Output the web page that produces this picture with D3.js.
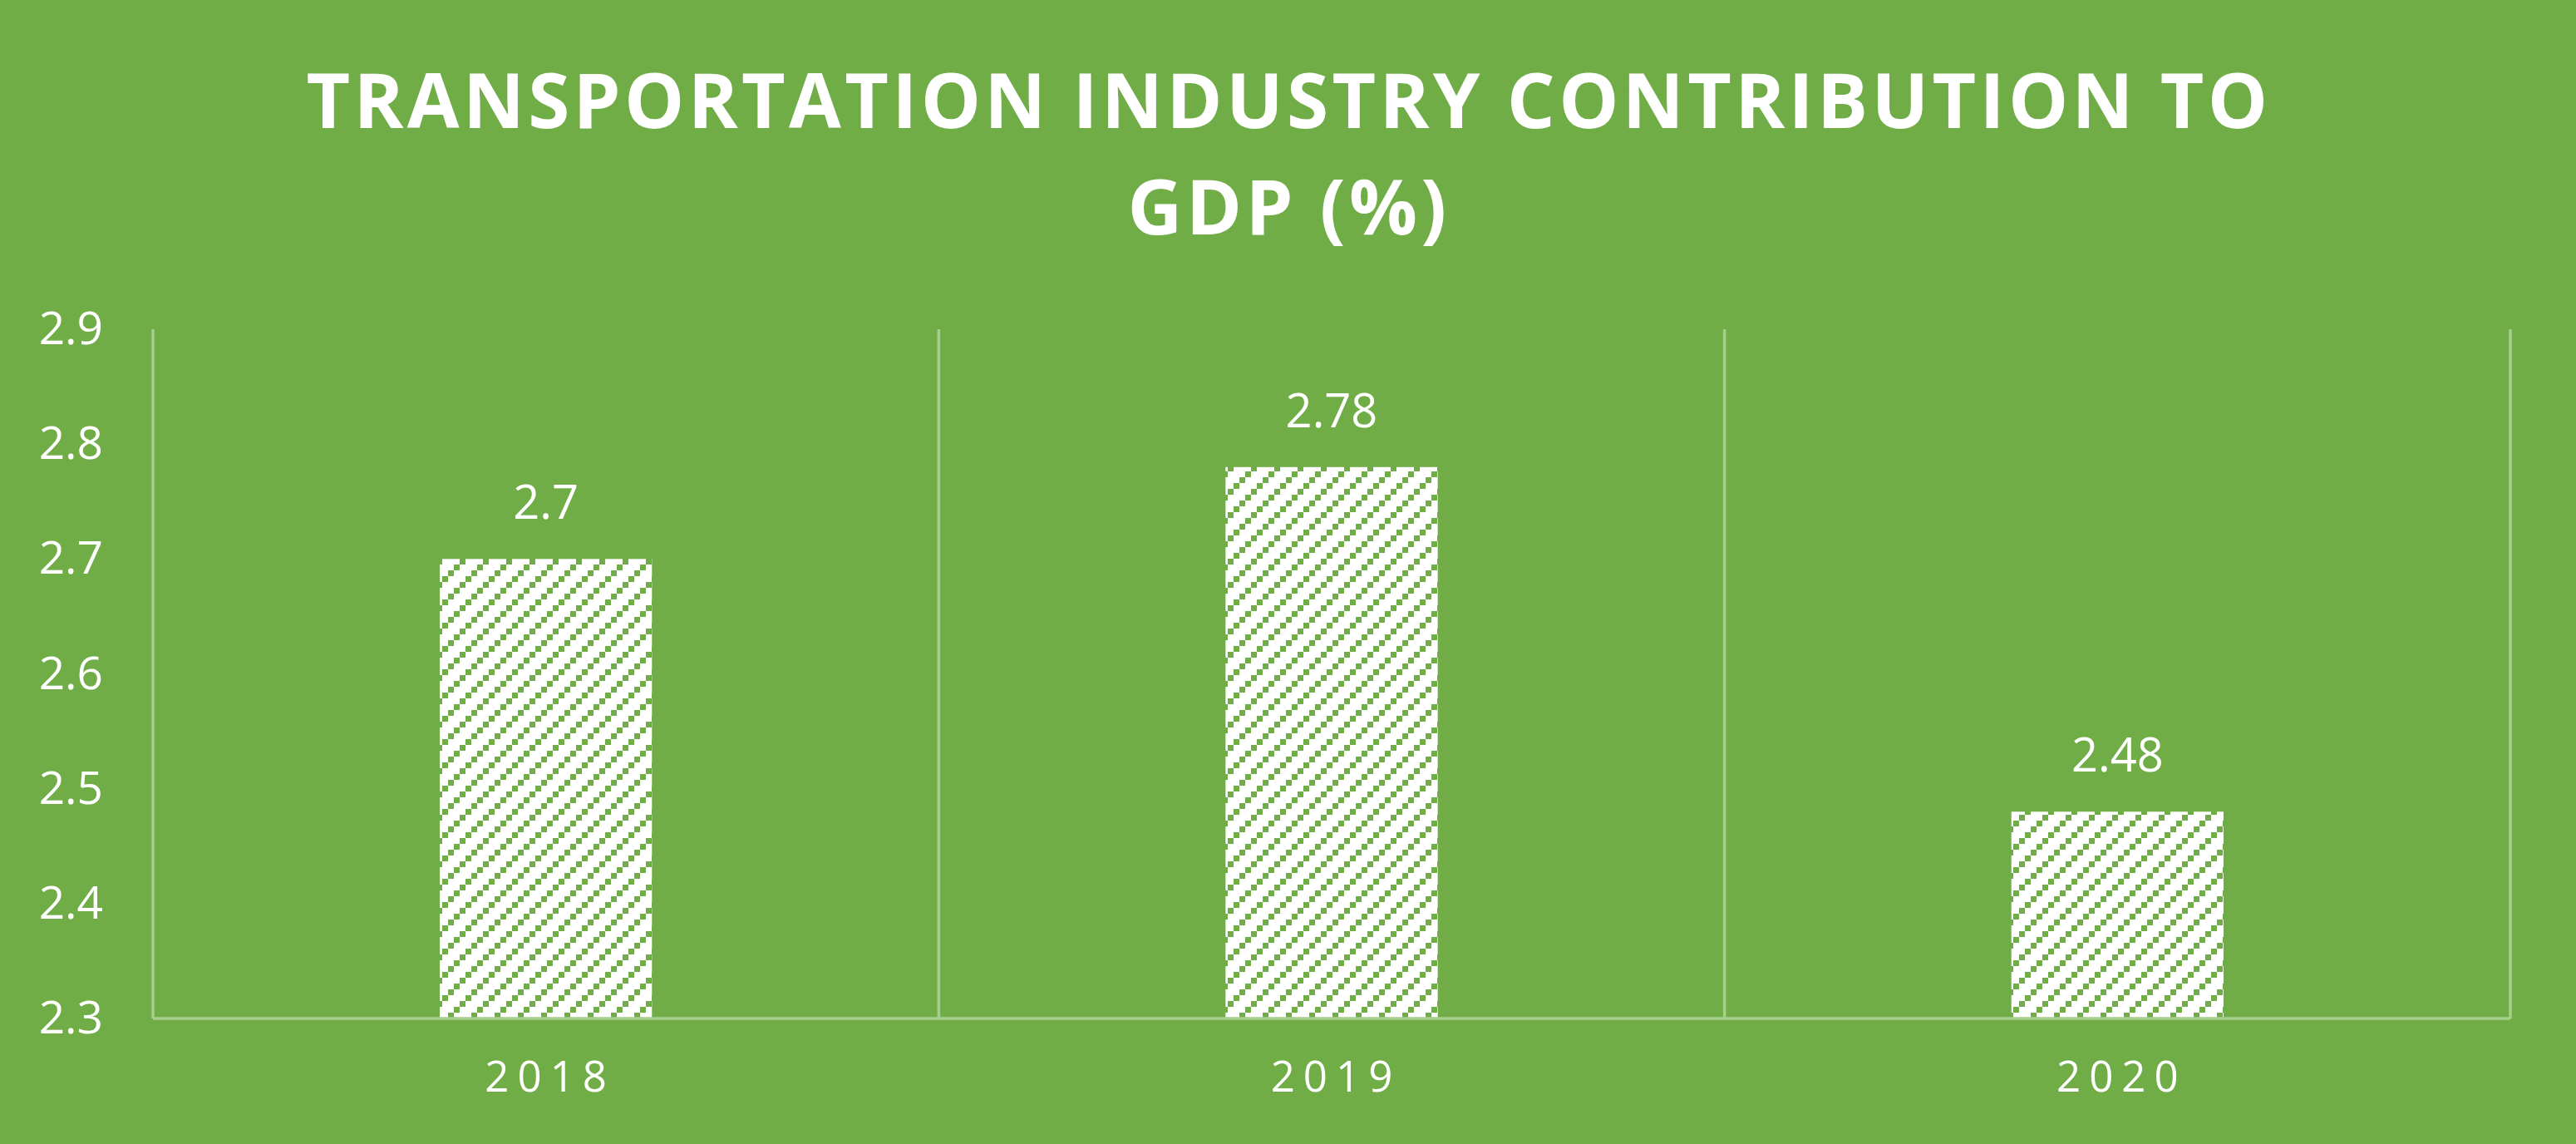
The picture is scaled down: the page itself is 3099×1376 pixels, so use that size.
<!DOCTYPE html>
<html>
<head>
<meta charset="utf-8">
<script src="https://cdn.jsdelivr.net/npm/d3@7"></script>
<style>
  html, body { margin: 0; padding: 0; background: #70AD47; }
  svg { display: block; }
</style>
</head>
<body>
<svg width="3099" height="1376"></svg>
<script>
// chart data
var years = ['2018', '2019', '2020'];
var shares = [2.7, 2.78, 2.48];
var yTicks = [2.3, 2.4, 2.5, 2.6, 2.7, 2.8, 2.9];
var titleLines = ['TRANSPORTATION INDUSTRY CONTRIBUTION TO', 'GDP (%)'];

function main() {
    var svg = d3.select('svg'),
        W = +svg.attr('width'),
        H = +svg.attr('height');

    var left = 184, right = 3020, top = 396, bottom = 1225;
    var green = '#70AD47', grid = '#A7CF8C';

    svg.append('rect').attr('width', W).attr('height', H).attr('fill', green);

    // upward diagonal hatch for bars
    var pat = svg.append('defs').append('pattern')
        .attr('id', 'hatch')
        .attr('patternUnits', 'userSpaceOnUse')
        .attr('width', 28).attr('height', 28);
    pat.append('rect').attr('width', 28).attr('height', 28).attr('fill', '#fff');
    [0, 1, 2, 3].forEach(function(i) {
        pat.append('rect')
           .attr('x', i * 7).attr('y', 21 - i * 7)
           .attr('width', 7).attr('height', 7)
           .attr('fill', green);
    });

    var x = d3.scaleBand().domain(years).range([left, right]).padding(0);
    var y = d3.scaleLinear().domain([2.3, 2.9]).range([bottom, top]);

    // title
    svg.append('g').selectAll('text')
       .data(titleLines)
       .enter().append('text')
       .attr('x', W / 2 + 1)
       .attr('y', function(d, i) { return i === 0 ? 154 : 282; })
       .attr('text-anchor', 'middle')
       .attr('fill', '#fff')
       .style('font-family', '"Open Sans", sans-serif')
       .style('font-weight', 700)
       .style('font-size', '91px')
       .style('letter-spacing', '4.3px')
       .text(function(d) { return d; });

    // vertical gridlines at category boundaries
    var bounds = years.map(function(d) { return x(d); }).concat([right]);
    svg.append('g').selectAll('line')
       .data(bounds)
       .enter().append('line')
       .attr('x1', function(d) { return d; })
       .attr('x2', function(d) { return d; })
       .attr('y1', top)
       .attr('y2', bottom)
       .attr('stroke', grid)
       .attr('stroke-width', 3.5);

    // bars
    var bw = x.bandwidth() * 0.27;
    svg.append('g').selectAll('.bar')
       .data(shares)
       .enter().append('rect')
       .attr('class', 'bar')
       .attr('x', function(d, i) { return x(years[i]) + x.bandwidth() / 2 - bw / 2; })
       .attr('y', function(d) { return y(d); })
       .attr('width', bw)
       .attr('height', function(d) { return bottom - y(d); })
       .attr('fill', 'url(#hatch)');

    // bottom axis line
    svg.append('line')
       .attr('x1', left).attr('x2', right)
       .attr('y1', bottom).attr('y2', bottom)
       .attr('stroke', grid).attr('stroke-width', 3.5);

    // value labels
    svg.append('g').selectAll('text')
       .data(shares)
       .enter().append('text')
       .attr('x', function(d, i) { return x(years[i]) + x.bandwidth() / 2; })
       .attr('y', function(d) { return y(d) - 48; })
       .attr('text-anchor', 'middle')
       .attr('fill', '#fff')
       .style('font-family', '"Open Sans", sans-serif')
       .style('font-size', '56px')
       .text(function(d) { return d; });

    // y axis
    var yAxis = svg.append('g')
       .attr('transform', 'translate(' + (left - 60) + ',0)')
       .call(d3.axisLeft(y).tickValues(yTicks).tickSize(0).tickPadding(0)
             .tickFormat(d3.format('.1f')));
    yAxis.select('.domain').remove();
    yAxis.selectAll('text')
       .attr('fill', '#fff')
       .style('font-family', '"Open Sans", sans-serif')
       .style('font-size', '55px');

    // x axis labels
    var xAxis = svg.append('g')
       .attr('transform', 'translate(5,' + bottom + ')')
       .call(d3.axisBottom(x).tickSize(0).tickPadding(0));
    xAxis.select('.domain').remove();
    xAxis.selectAll('text')
       .attr('y', 88)
       .attr('dy', 0)
       .attr('fill', '#fff')
       .style('font-family', '"Open Sans", sans-serif')
       .style('font-size', '51px')
       .style('letter-spacing', '10px');
}
main();
</script>
</body>
</html>
